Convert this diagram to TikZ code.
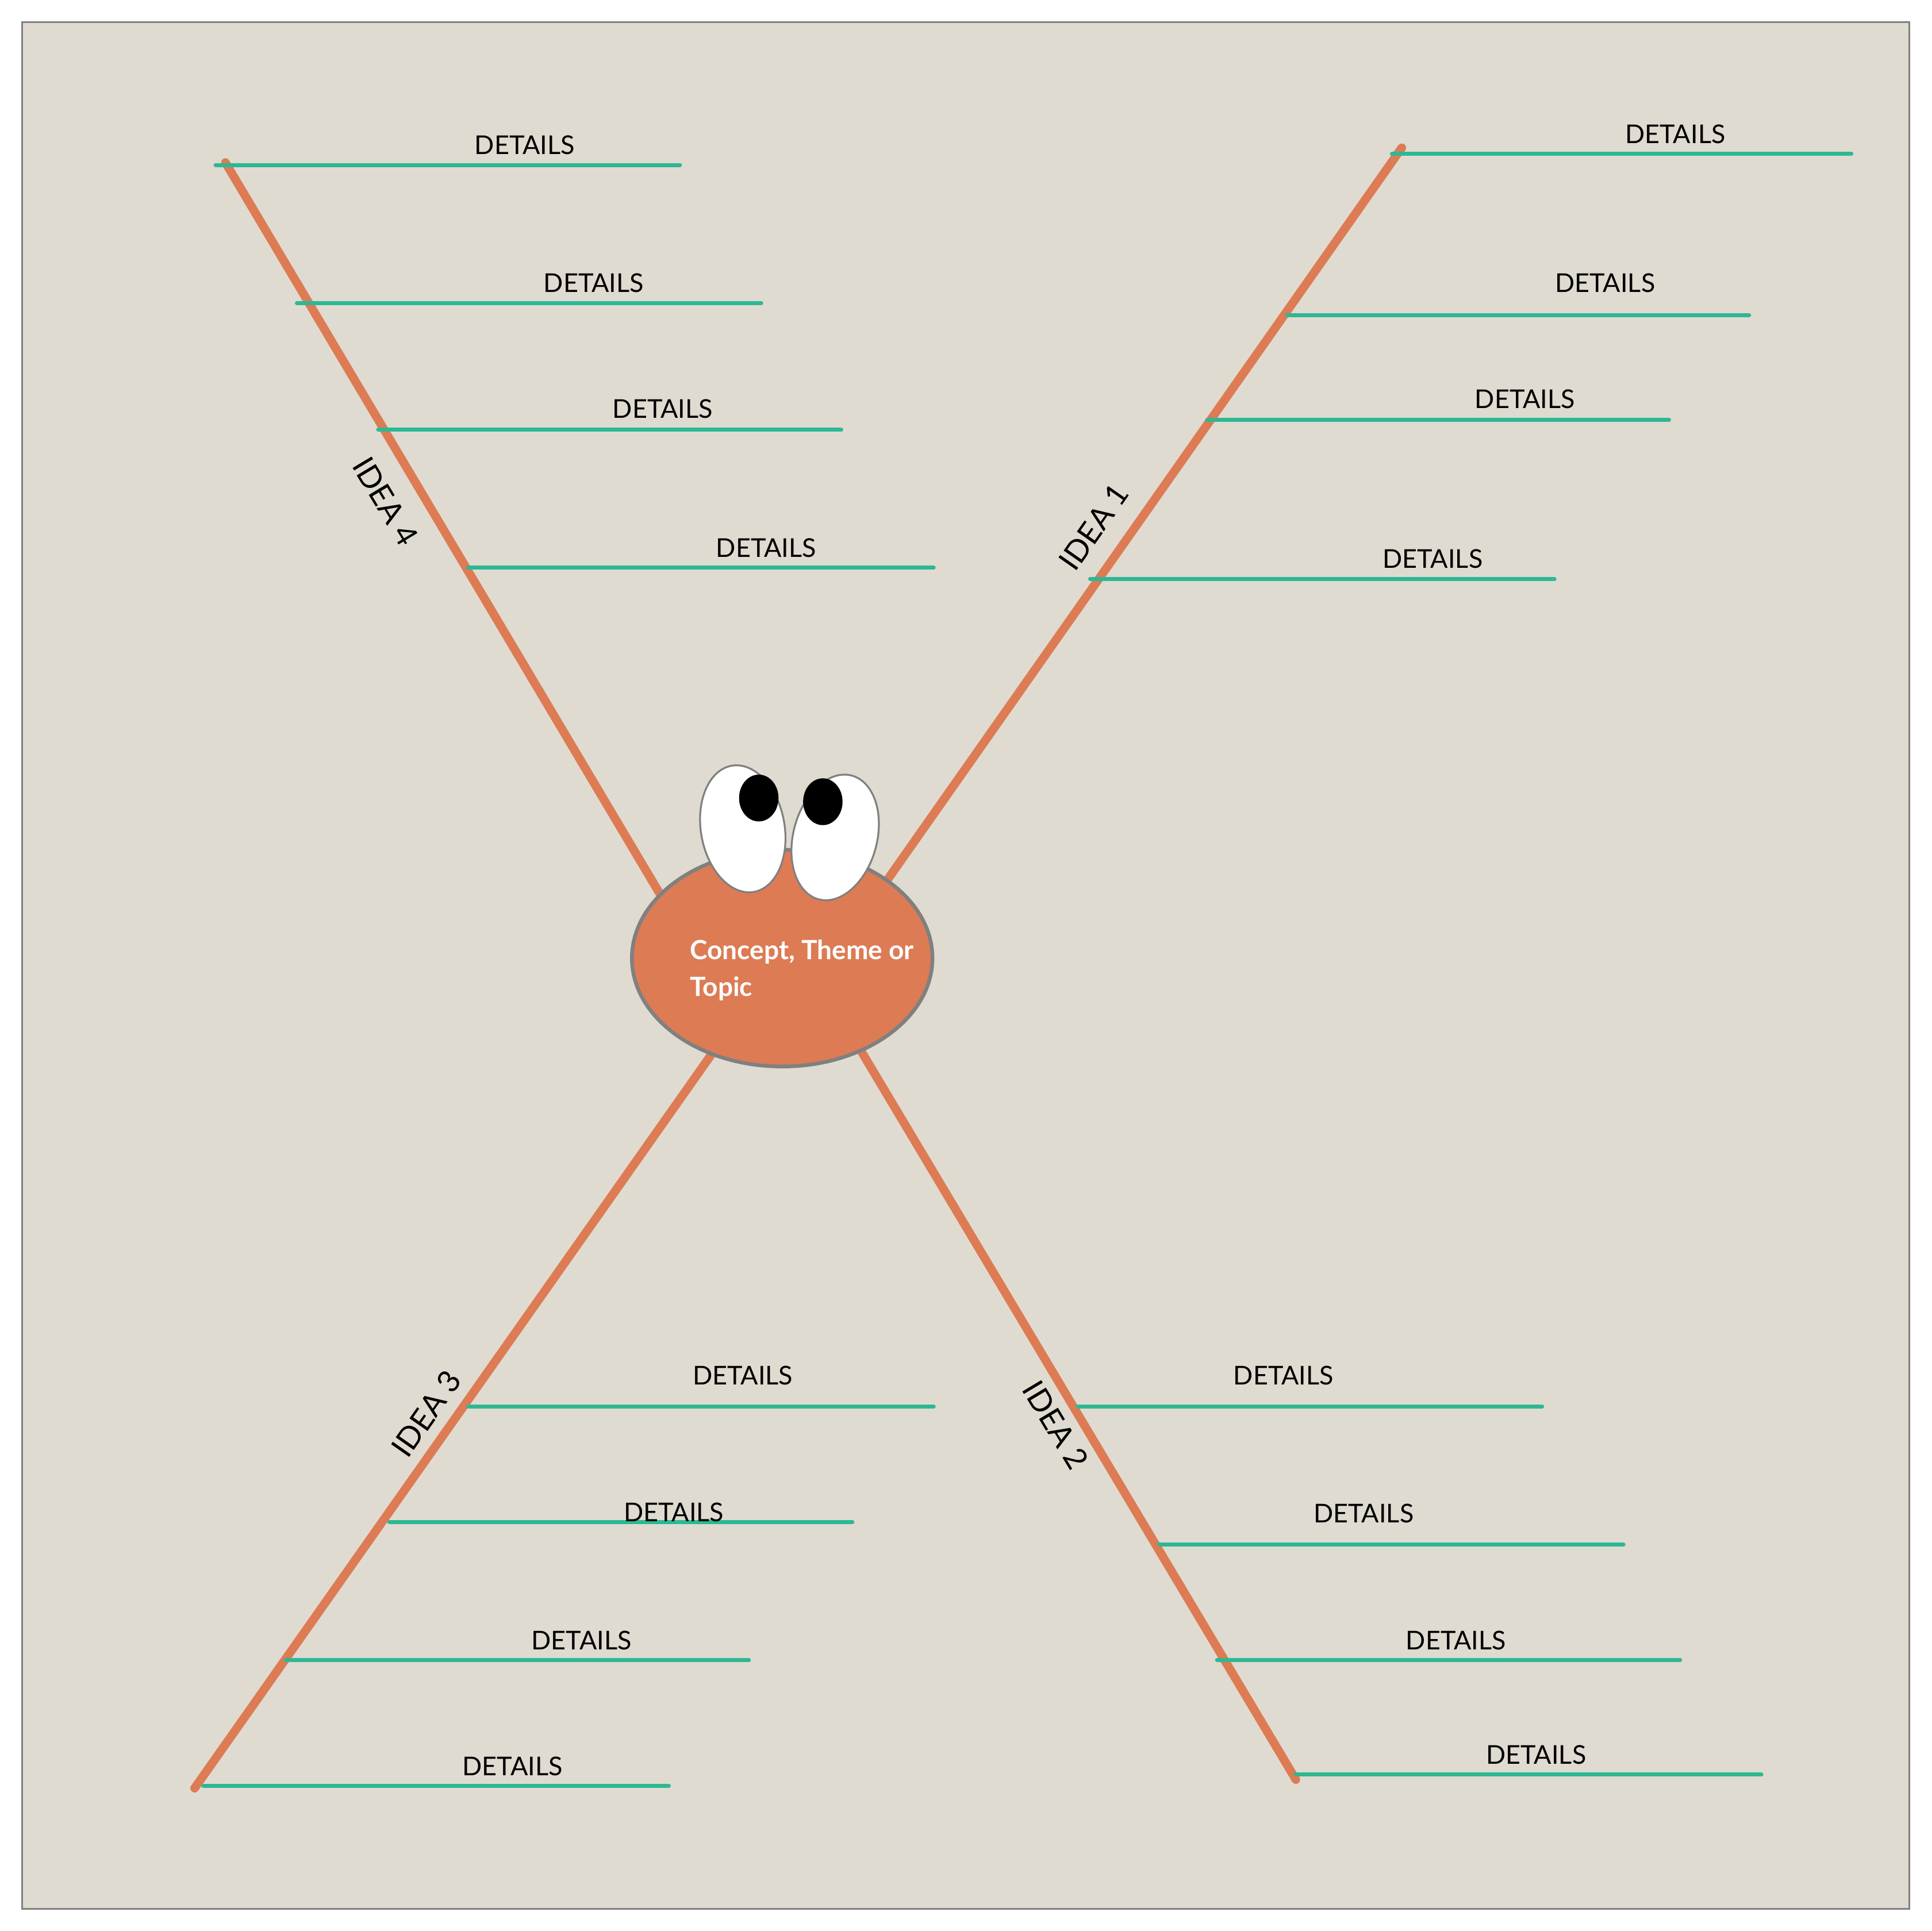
\documentclass[tikz,border=0pt]{standalone}
\usepackage{fontspec}
\setmainfont{Lato}
\usetikzlibrary{shapes.geometric}
\definecolor{paper}{HTML}{E0DBD0}
\definecolor{brick}{HTML}{DD7B55}
\definecolor{mint}{HTML}{2DB894}
\tikzset{%
    idea/.style={draw=brick, line width=7pt, line cap=round},
    detail/.style={draw=mint, line width=3.2pt, line cap=round},
    dlabel/.style={font=\fontsize{21}{24}\selectfont, inner sep=0pt},
    ilabel/.style={font=\fontsize{25}{28}\selectfont, inner sep=0pt}
}
\begin{document}
\begin{tikzpicture}[x=1pt,y=-1pt]
\useasboundingbox (0,0) rectangle (1568,1568);
\draw[fill=paper, draw=gray, line width=1.5pt] (18,18) rectangle (1550,1550);

\coordinate (S1) at (720,715);
\coordinate (S2) at (700,855);
\coordinate (S3) at (577,857);
\coordinate (S4) at (537,728);
\coordinate (E1) at (1138,120);
\coordinate (E2) at (1052,1445);
\coordinate (E3) at (158,1452);
\coordinate (E4) at (183,132);

% branches
\draw[idea] (S1) -- (E1);
\draw[idea] (S2) -- (E2);
\draw[idea] (S3) -- (E3);
\draw[idea] (S4) -- (E4);

% details
\foreach \xa/\ya/\xb/\xl/\yl [count=\i] in {
  1130/125/1503/1360/109, 1045/256/1420/1303/230, 980/341/1355/1238/324, 885/470/1262/1163/454,
  175/134/552/426/118, 241/246/618/482/230, 307/349/683/538/332, 380/461/758/622/445,
  380/1142/758/603/1117, 316/1236/692/547/1228, 232/1348/608/472/1332, 165/1450/543/416/1434,
  875/1142/1252/1042/1117, 941/1254/1318/1107/1229, 988/1348/1364/1182/1332, 1052/1441/1430/1247/1425}
{
  \coordinate (d\i a) at (\xa,\ya);
  \coordinate (d\i b) at (\xb,\ya);
  \draw[detail] (d\i a) -- (d\i b);
  \node[dlabel] (t\i) at (\xl,\yl) {DETAILS};
}

\node[ilabel, rotate=55] (i1) at (888,428) {IDEA 1};
\node[ilabel, rotate=-59] (i2) at (857,1157) {IDEA 2};
\node[ilabel, rotate=55] (i3) at (346,1148) {IDEA 3};
\node[ilabel, rotate=-59] (i4) at (313,407) {IDEA 4};

% head
\draw[fill=brick, draw=gray, line width=3pt] (635,778) ellipse [x radius=122, y radius=88];
\node[text=white, font=\bfseries\fontsize{21.5}{30}\selectfont, align=left, anchor=north west, inner sep=0pt] (topic) at (560,763) {Concept, Theme or\\Topic};

% eyes
\draw[fill=white, draw=gray, line width=1.5pt, rotate around={10:(603,673)}] (603,673) ellipse [x radius=34, y radius=52];
\draw[fill=white, draw=gray, line width=1.5pt, rotate around={-15:(678,680)}] (678,680) ellipse [x radius=34, y radius=52];
\fill[black] (616,648) ellipse [x radius=16, y radius=19];
\fill[black] (668,651) ellipse [x radius=16, y radius=19];
\end{tikzpicture}
\end{document}
